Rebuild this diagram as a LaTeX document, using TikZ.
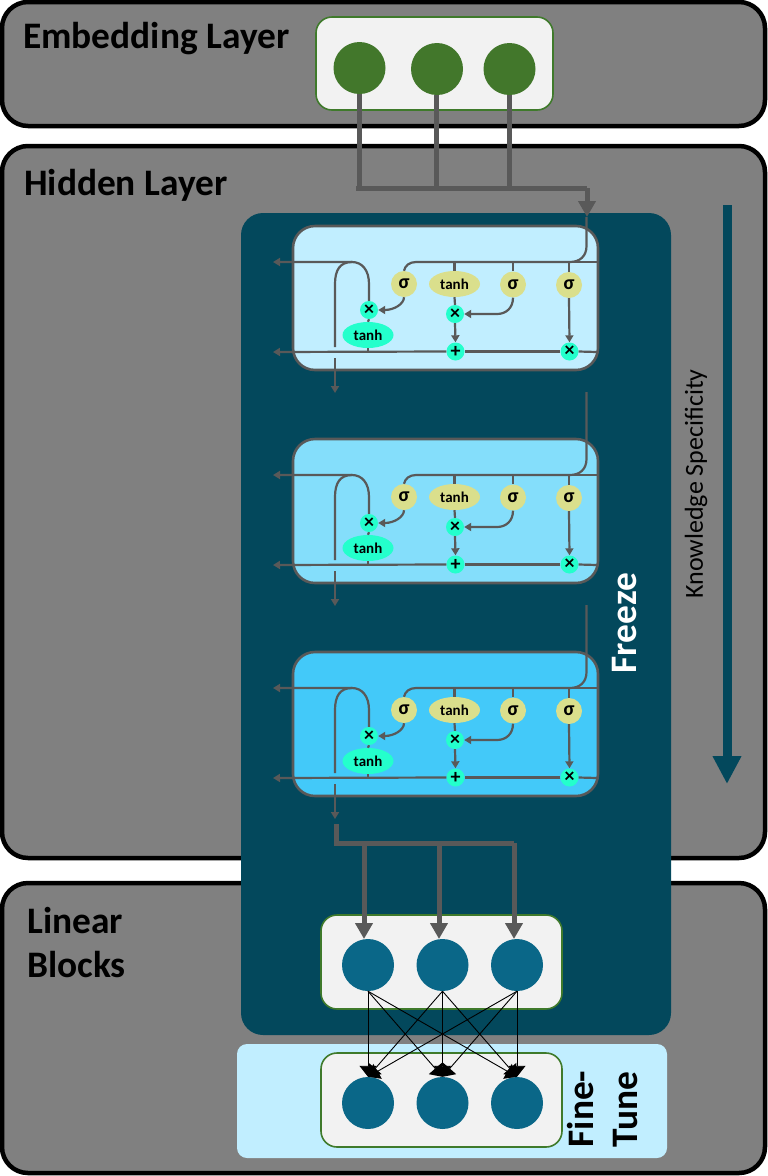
\documentclass[tikz,border=0pt]{standalone}
\usepackage{fontspec}
\setmainfont{Carlito}
\usetikzlibrary{arrows.meta,shapes.geometric}

\definecolor{layergray}{HTML}{808080}
\definecolor{wire}{HTML}{595959}
\definecolor{freezeblue}{HTML}{03485C}
\definecolor{tuneblue}{HTML}{C1EEFF}
\definecolor{cellA}{HTML}{C1EEFF}
\definecolor{cellB}{HTML}{84DEFB}
\definecolor{cellC}{HTML}{43C9F9}
\definecolor{blockfill}{HTML}{F2F2F2}
\definecolor{blockline}{HTML}{3F7A2B}
\definecolor{embedgreen}{HTML}{42772B}
\definecolor{unitblue}{HTML}{0A6788}
\definecolor{gateyellow}{HTML}{DADF8C}
\definecolor{opgreen}{HTML}{24FFCC}

\tikzset{
  layerbox/.style={draw=black,line width=4.5pt,fill=layergray,rounded corners=26pt,inner sep=0pt},
  panel/.style={rounded corners=#1,inner sep=0pt},
  blockbox/.style={draw=blockline,line width=1.6pt,fill=blockfill,rounded corners=16pt,inner sep=0pt},
  cellbox/.style={draw=wire,line width=2.6pt,rounded corners=22pt,minimum width=305pt,minimum height=144pt,inner sep=0pt},
  title/.style={font=\fontsize{37.4}{44}\selectfont\bfseries,align=left,inner sep=0pt},
  unit/.style={circle,minimum size=52pt,inner sep=0pt,fill=unitblue},
  embed/.style={circle,minimum size=52pt,inner sep=0pt,fill=embedgreen},
  gate/.style={ellipse,fill=gateyellow,minimum width=26pt,minimum height=26pt,inner sep=0pt,font=\fontsize{20}{20}\selectfont\bfseries},
  tanhgate/.style={ellipse,minimum width=51pt,minimum height=26pt,inner sep=0pt,font=\fontsize{15}{15}\selectfont\bfseries},
  op/.style={circle,fill=opgreen,minimum size=18pt,inner sep=0pt,font=\fontsize{20}{20}\selectfont\bfseries},
  thin wire/.style={draw=wire,line width=2.2pt},
  thin arrow/.style={thin wire,-{Triangle[length=7pt,width=8pt]}},
  thick wire/.style={draw=wire,line width=5pt},
  thick arrow/.style={thick wire,-{Triangle[length=16pt,width=17pt]}},
  cross/.style={draw=black,line width=0.9pt,-{Triangle[length=11pt,width=17pt]}}
}

\begin{document}
\begin{tikzpicture}[x=1pt,y=-1pt]
  \useasboundingbox (0,0) rectangle (768,1176);
  % layers
  \node[layerbox,minimum width=763pt,minimum height=124pt] (embedlayer) at (383.5,64) {};
  \node[layerbox,minimum width=763pt,minimum height=712pt] (hiddenlayer) at (383.5,502) {};
  \node[layerbox,minimum width=763pt,minimum height=290pt] (linearlayer) at (383.5,1028) {};
  \node[panel=22pt,fill=freezeblue,minimum width=430pt,minimum height=822pt] (freeze) at (456,624) {};
  \node[panel=10pt,fill=tuneblue,minimum width=430pt,minimum height=114pt] (tune) at (452,1101) {};
  \node[title,anchor=west] (embedtitle) at (23,39) {Embedding Layer};
  \node[title,anchor=west] (hiddentitle) at (24,185) {Hidden Layer};
  \node[title,anchor=west] (lineartitle) at (27,943) {Linear\\Blocks};
  \node[title,text=white,rotate=90] (freezetitle) at (625,623) {Freeze};
  \node[title,rotate=90] (tunetitle) at (603,1109) {Fine-\\Tune};
  \node[rotate=90,inner sep=0pt,font=\fontsize{26}{26}\selectfont] (specific) at (696,484) {Knowledge Specificity};
  \coordinate (specA) at (727,205);
  \coordinate (specB) at (727,784);
  \draw[draw=freezeblue,line width=9pt,-{Triangle[length=28pt,width=27pt]}] (specA) -- (specB);
  % embedding
  \node[blockbox,minimum width=237pt,minimum height=93pt] (embedbox) at (434.5,63.5) {};
  \node[embed] (e1) at (359.5,68) {};
  \node[embed] (e2) at (437,69) {};
  \node[embed] (e3) at (509.5,69) {};
  \coordinate (b1) at (359,188);
  \coordinate (b2) at (436,188);
  \coordinate (b3) at (509,188);
  \coordinate (b4) at (587,188);
  \coordinate (b5) at (587,217);
  \draw[thick wire] (e1.south -| b1) -- (b1);
  \draw[thick wire] (e2.south -| b2) -- (b2);
  \draw[thick wire] (e3.south -| b3) -- (b3);
  \draw[thick wire] (356,188) -- (b4);
  \draw[thick arrow] (b4) -- (b5);
  % cells
  \foreach \i/\dy/\col/\ytop in {1/0/cellA/217,2/213/cellB/179,3/426/cellC/179} {
    \begin{scope}[shift={(0,\dy)}]
      \node[cellbox,fill=\col] (box\i) at (445.5,298) {};
      \node[gate] (sa\i) at (404,284) {σ};
      \node[tanhgate,fill=gateyellow] (ta\i) at (454.5,284) {tanh};
      \node[gate] (sb\i) at (513,284.5) {σ};
      \node[gate] (sc\i) at (569,285) {σ};
      \node[op] (ma\i) at (369,310) {×};
      \node[tanhgate,fill=opgreen] (tb\i) at (368,335) {tanh};
      \node[op] (mb\i) at (455,314) {×};
      \node[op] (pl\i) at (455.5,351.5) {+};
      \node[op] (mc\i) at (569.5,351.5) {×};
      \coordinate (in\i) at (586.5,\ytop);
      \coordinate (outa\i) at (273,262);
      \coordinate (outb\i) at (273,352);
      \coordinate (outc\i) at (335,393);
      % top line
      \draw[thin wire] (in\i) -- (586.5,246) .. controls (586.5,256) and (580,262) .. (570,262) -- (416,262)
        .. controls (409,262) and (405,266) .. (sa\i.north);
      \draw[thin wire] (570,262) -- (597,262);
      \draw[thin wire] (454.5,262) -- (ta\i.north);
      \draw[thin wire] (513,262) -- (sb\i.north);
      \draw[thin wire] (569,262) -- (sc\i.north);
      % left arch
      \draw[thin arrow] (ma\i.north) -- (369,284) .. controls (369,270) and (362,262) .. (352,262) -- (outa\i);
      \draw[thin wire] (335,347) -- (335,284) .. controls (335,270) and (340,262) .. (352,262);
      \draw[thin arrow] (335,358) -- (outc\i);
      % gates
      \draw[thin arrow] (sa\i.south) .. controls (404,304) and (394,310) .. (ma\i.east);
      \draw[thin wire] (ma\i.south) -- (tb\i.north);
      \draw[thin wire] (tb\i.south) -- (368,352);
      \draw[thin wire] (ta\i.south) -- (mb\i.north);
      \draw[thin arrow] (sb\i.south) .. controls (513,308) and (506,314) .. (497,314) -- (mb\i.east);
      \draw[thin arrow] (mb\i.south) -- (pl\i.north);
      \draw[thin arrow] (sc\i.south) -- (mc\i.north);
      % bottom line
      \draw[thin wire] (597,352) -- (mc\i.east);
      \draw[thin wire] (mc\i.west) -- (pl\i.east);
      \draw[thin arrow] (pl\i.west) -- (outb\i);
    \end{scope}
  }
  % linear blocks
  \node[blockbox,minimum width=241pt,minimum height=94pt] (upbox) at (441.5,962) {};
  \node[blockbox,minimum width=241pt,minimum height=94pt] (lowbox) at (441.5,1100) {};
  \node[unit] (u1) at (368,965) {};
  \node[unit] (u2) at (442.5,965) {};
  \node[unit] (u3) at (517,965) {};
  \node[unit] (d1) at (368,1103) {};
  \node[unit] (d2) at (442.5,1103) {};
  \node[unit] (d3) at (517,1103) {};
  \coordinate (f0) at (336,824);
  \coordinate (f1) at (336,843);
  \coordinate (f2) at (364,843);
  \coordinate (f3) at (439,843);
  \coordinate (f4) at (514,843);
  \coordinate (h2) at (364,939);
  \coordinate (h3) at (439,939);
  \coordinate (h4) at (514,939);
  \draw[thick wire] (f0) -- (f1) -- (f4);
  \draw[thick arrow] (f2) -- (h2);
  \draw[thick arrow] (f3) -- (h3);
  \draw[thick arrow] (f4) -- (h4);
  \foreach \a in {1,2,3}
    \foreach \b in {1,2,3}
      \draw[cross] (u\a.south) -- (d\b.north);
\end{tikzpicture}
\end{document}
